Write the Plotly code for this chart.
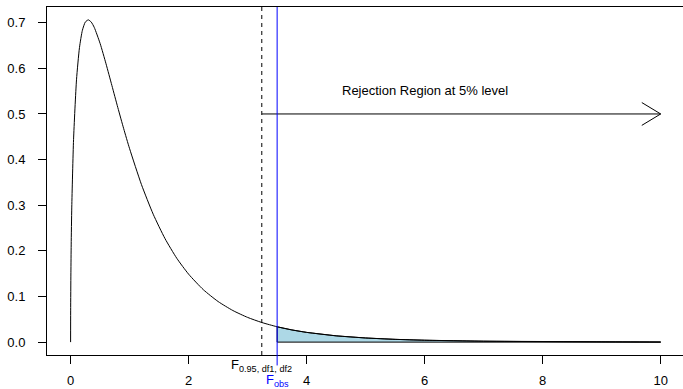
import plotly.graph_objects as go

# F(3,16) density values
x_vals = [0, 0.001, 0.005, 0.01, 0.02, 0.05, 0.1, 0.15, 0.2, 0.25, 0.3, 0.35, 0.4,
          0.5, 0.6, 0.7, 0.8, 0.9, 1.0, 1.2, 1.4, 1.6, 1.8, 2.0, 2.25, 2.5, 2.75,
          3.0, 3.24, 3.5, 3.75, 4.0, 4.5, 5.0, 5.5, 6.0, 7.0, 8.0, 9.0, 10.0]
density = [0, 0.0684, 0.1520, 0.2130, 0.2959, 0.4437, 0.5748, 0.6453, 0.6835, 0.7016,
           0.7062, 0.7013, 0.6899, 0.6545, 0.6100, 0.5622, 0.5141, 0.4676, 0.4238,
           0.3455, 0.2802, 0.2268, 0.1836, 0.1489, 0.1148, 0.0889, 0.0692, 0.0541,
           0.0430, 0.0336, 0.0267, 0.0213, 0.01376, 0.00905, 0.00605, 0.00412,
           0.00200, 0.00102, 0.00054, 0.00030]

f_crit = 3.24
f_obs = 3.5
arrow_y = 0.5
arrow_end = 10
label_text = "Rejection Region at 5% level"
label_x = 6
label_y = 0.552
x_ticks = [0, 2, 4, 6, 8, 10]
y_ticks = [0.0, 0.1, 0.2, 0.3, 0.4, 0.5, 0.6, 0.7]

FONT = "Liberation Sans, Arial, sans-serif"
fig = go.Figure()

# shaded tail polygon
tail_x = [x for x in x_vals if x >= f_obs]
tail_y = [d for x, d in zip(x_vals, density) if x >= f_obs]
poly_x = [f_obs] + tail_x + [tail_x[-1], f_obs]
poly_y = [0] + tail_y + [0, 0]
fig.add_trace(go.Scatter(x=poly_x, y=poly_y, mode="lines", fill="toself",
                         fillcolor="#ADD8E6", line=dict(color="black", width=1),
                         hoverinfo="skip", showlegend=False))

# density curve
fig.add_trace(go.Scatter(x=x_vals, y=density, mode="lines",
                         line=dict(color="black", width=1, shape="spline", smoothing=0.6),
                         showlegend=False))

# arrow (shaft + open head)
head_dx = 0.32
head_dy = 0.025
fig.add_trace(go.Scatter(
    x=[f_crit, arrow_end, None, arrow_end - head_dx, arrow_end, arrow_end - head_dx],
    y=[arrow_y, arrow_y, None, arrow_y + head_dy, arrow_y, arrow_y - head_dy],
    mode="lines", line=dict(color="black", width=1), showlegend=False, hoverinfo="skip"))

shapes = [
    dict(type="line", xref="x", yref="paper", x0=f_crit, x1=f_crit, y0=0, y1=1,
         line=dict(color="black", width=1, dash="4px,4px")),
    dict(type="line", xref="x", yref="paper", x0=f_obs, x1=f_obs, y0=-0.03, y1=1,
         line=dict(color="blue", width=1)),
]

annotations = [
    dict(x=label_x, y=label_y, xref="x", yref="y", text=label_text, showarrow=False,
         font=dict(family=FONT, size=13, color="black"), xanchor="center", yanchor="middle"),
    dict(x=f_crit, y=0, xref="x", yref="paper", text="F<sub>0.95, df1, df2</sub>",
         showarrow=False, font=dict(family=FONT, size=13, color="black"),
         xanchor="center", yanchor="top", yshift=0),
    dict(x=f_obs, y=0, xref="x", yref="paper", text="F<sub>obs</sub>",
         showarrow=False, font=dict(family=FONT, size=13, color="blue"),
         xanchor="center", yanchor="top", yshift=-15),
]

fig.update_layout(
    width=683, height=389,
    margin=dict(l=47, r=0, t=7, b=34, autoexpand=False),
    plot_bgcolor="white", paper_bgcolor="white",
    font=dict(family=FONT, size=13, color="black"),
    shapes=shapes, annotations=annotations,
    xaxis=dict(range=[-0.4, 10.378], tickvals=x_ticks, ticktext=[str(t) for t in x_ticks],
               showgrid=False, zeroline=False, showline=True, mirror=True,
               linecolor="black", linewidth=1, ticks="outside", ticklen=8,
               tickcolor="black", tickwidth=1, ticklabelstandoff=5, automargin=False),
    yaxis=dict(range=[-0.02825, 0.7344], tickvals=y_ticks,
               ticktext=[f"{t:.1f}" for t in y_ticks],
               showgrid=False, zeroline=False, showline=True, mirror=True,
               linecolor="black", linewidth=1, ticks="outside", ticklen=8,
               tickcolor="black", tickwidth=1, ticklabelstandoff=10, automargin=False),
)

fig.write_html("out.html", config={"displayModeBar": False},
               post_script="document.body.style.margin='0';document.body.style.overflow='hidden';")
